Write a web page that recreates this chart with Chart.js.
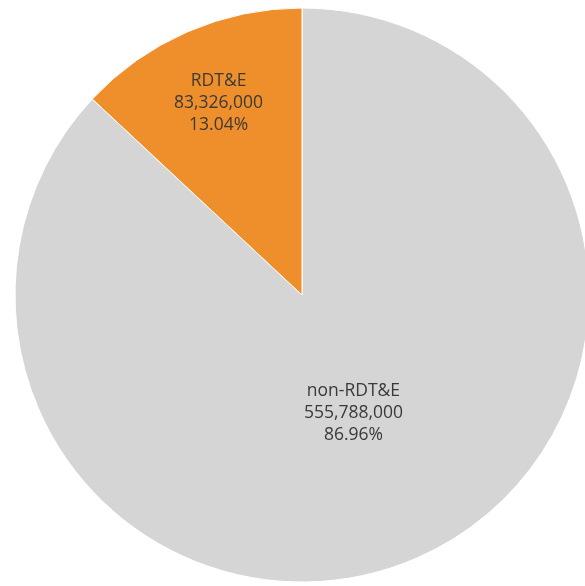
<!DOCTYPE html>
<html>
<head>
<meta charset="utf-8">
<script src="https://cdn.jsdelivr.net/npm/chart.js@4/dist/chart.umd.min.js"></script>
<style>
  html, body { margin: 0; padding: 0; background: #fff; }
  #wrap { width: 585px; height: 586px; }
</style>
</head>
<body>
<div id="wrap"><canvas id="pie"></canvas></div>
<script>
const categorias = ['non-RDT&E', 'RDT&E'];
const valores = [555788000, 83326000];
const percentuais = ['86.96%', '13.04%'];
const cores = ['#d5d5d5', '#ef8f2b'];

// posição do rótulo ao longo do raio (fração)
const posRotulo = [0.45, 0.73];

const rotulosPlugin = {
    id: 'rotulos',
    afterDatasetsDraw(chart) {
        const ctx = chart.ctx;
        const meta = chart.getDatasetMeta(0);
        ctx.save();
        ctx.font = '17.5px "Open Sans", sans-serif';
        ctx.fillStyle = '#3a3a3a';
        ctx.textAlign = 'center';
        ctx.textBaseline = 'middle';
        meta.data.forEach((arc, i) => {
            const mid = (arc.startAngle + arc.endAngle) / 2;
            const r = arc.outerRadius * posRotulo[i];
            const x = arc.x + Math.cos(mid) * r;
            const y = arc.y + Math.sin(mid) * r;
            const linhas = [categorias[i], valores[i].toLocaleString('en-US'), percentuais[i]];
            linhas.forEach((txt, j) => {
                ctx.fillText(txt, x, y + (j - 1) * 22);
            });
        });
        ctx.restore();
    }
};

new Chart(document.getElementById('pie').getContext('2d'), {
    type: 'pie',
    data: {
        labels: categorias,
        datasets: [{
            data: valores,
            backgroundColor: cores,
            borderColor: '#ffffff',
            borderWidth: 1,
            radius: 287,
            clip: false
        }]
    },
    options: {
        responsive: true,
        maintainAspectRatio: false,
        animation: false,
        layout: { padding: { left: 19, right: 0, top: 4, bottom: 0 } },
        plugins: {
            legend: { display: false },
            tooltip: { enabled: false }
        }
    },
    plugins: [rotulosPlugin]
});
</script>
</body>
</html>
